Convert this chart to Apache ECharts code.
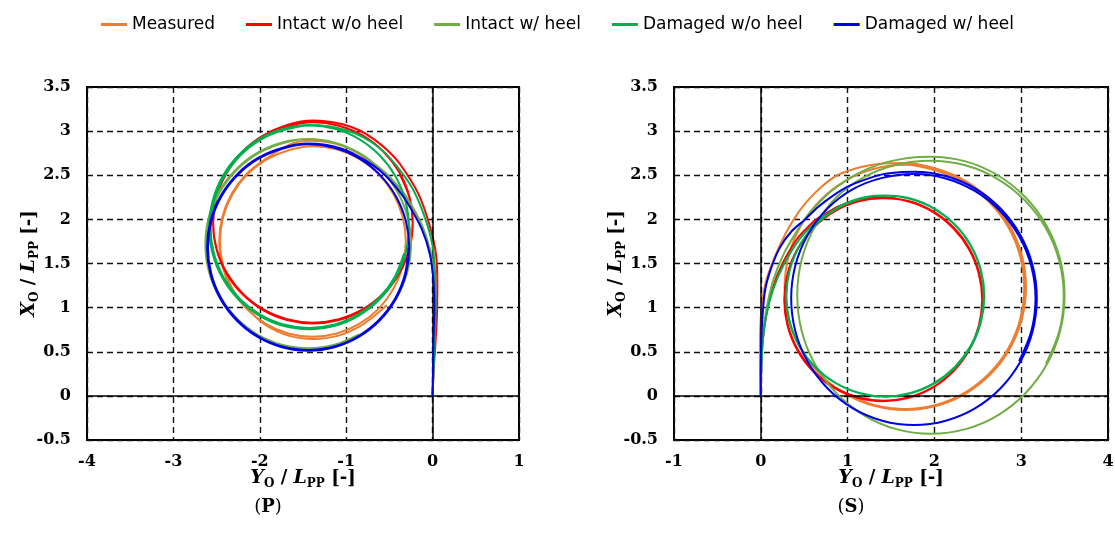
<!DOCTYPE html>
<html>
<head>
<meta charset="utf-8">
<script src="https://cdn.jsdelivr.net/npm/echarts/dist/echarts.min.js"></script>
<style>html,body{margin:0;padding:0;background:#fff}#c{width:1115px;height:546px}</style>
</head>
<body>
<div id="c"></div>
<script>
// ---------- data ----------
const SERIES_NAMES = ['Measured', 'Intact w/o heel', 'Intact w/ heel', 'Damaged w/o heel', 'Damaged w/ heel'];
const PANEL_LABELS = ['P', 'S'];
const X_RANGE_P = [-4, 1];
const X_RANGE_S = [-1, 4];
const Y_RANGE = [-0.5, 3.5];

// Port turn (P): [Y_O/Lpp, X_O/Lpp]
const P_MEASURED = [[0,0],[0.01,0.3],[0.02,0.65],[0.03,1.0],[0.02,1.35],[-0.03,1.65],[-0.14,1.95],[-0.32,2.25],[-0.44,2.4],[-0.57,2.53],[-0.72,2.65],[-0.88,2.76],[-1.06,2.84],[-1.24,2.88],[-1.42,2.89],[-1.65,2.85],
  [-1.93,2.685],[-2.154,2.514],[-2.325,2.29],[-2.433,2.03],[-2.47,1.75],[-2.433,1.47],[-2.325,1.21],[-2.154,0.986],[-1.93,0.815],[-1.67,0.707],[-1.39,0.67],[-1.11,0.707],
  [-0.85,0.815],[-0.626,0.986],[-0.455,1.21],[-0.347,1.47],[-0.31,1.75],[-0.347,2.03],[-0.455,2.29],[-0.626,2.514],[-0.85,2.685],[-1.11,2.793],[-1.39,2.83],
  [-1.667,2.784],[-1.925,2.677],[-2.147,2.507],[-2.317,2.285],[-2.424,2.027],[-2.46,1.75],[-2.424,1.473],[-2.317,1.215],[-2.147,0.993],[-1.93,0.8],[-1.66,0.68],
  [-1.38,0.645],[-1.1,0.68],[-0.84,0.79],[-0.62,0.95],[-0.53,1.03]];
const P_INTACT_NOHEEL = [[0,0],[0.01,0.25],[0.03,0.55],[0.05,0.9],[0.055,1.25],[0.04,1.6],[-0.04,1.95],[-0.17,2.3],[-0.38,2.63],[-0.52,2.78],[-0.68,2.91],[-0.85,3.01],[-1.05,3.08],[-1.22,3.11],[-1.385,3.12],
  [-1.684,3.07],[-1.963,2.948],[-2.202,2.767],[-2.385,2.533],[-2.501,2.259],[-2.54,1.965],[-2.501,1.671],[-2.385,1.397],[-2.202,1.163],[-1.963,0.982],[-1.684,0.869],[-1.385,0.83],
  [-1.086,0.869],[-0.807,0.982],[-0.568,1.163],[-0.385,1.397],[-0.269,1.671],[-0.23,1.965],[-0.269,2.259],[-0.385,2.533],[-0.568,2.767],[-0.807,2.948],[-1.086,3.061],[-1.385,3.10],
  [-1.684,3.051],[-1.963,2.938],[-2.202,2.757],[-2.385,2.523],[-2.501,2.249],[-2.54,1.955],[-2.501,1.661],[-2.385,1.387],[-2.202,1.153],[-1.963,0.972],[-1.684,0.859],[-1.385,0.82],
  [-1.086,0.859],[-0.807,0.972],[-0.568,1.153],[-0.385,1.387],[-0.269,1.661],[-0.23,1.955],[-0.269,2.249],[-0.385,2.523]];
const P_INTACT_HEEL = [[0,0],[0.01,0.3],[0.02,0.65],[0.03,1.0],[0.02,1.35],[-0.03,1.65],[-0.13,1.95],[-0.3,2.25],[-0.42,2.4],[-0.55,2.53],[-0.7,2.65],[-0.87,2.76],[-1.05,2.84],[-1.24,2.89],[-1.44,2.91],
  [-1.748,2.87],[-2.035,2.751],[-2.281,2.561],[-2.471,2.315],[-2.59,2.028],[-2.63,1.72],[-2.59,1.412],[-2.471,1.125],[-2.281,0.879],[-2.035,0.689],[-1.748,0.57],[-1.44,0.53],
  [-1.132,0.57],[-0.845,0.689],[-0.599,0.879],[-0.409,1.125],[-0.29,1.412],[-0.25,1.72],[-0.29,2.028],[-0.409,2.315],[-0.599,2.561],[-0.845,2.751],[-1.132,2.87],[-1.44,2.91],
  [-1.746,2.86],[-2.03,2.742],[-2.274,2.554],[-2.462,2.31],[-2.58,2.026],[-2.62,1.72],[-2.58,1.414],[-2.462,1.13],[-2.274,0.886],[-2.03,0.698],[-1.746,0.58],[-1.44,0.54],
  [-1.134,0.58],[-0.85,0.698]];
const P_DAMAGED_NOHEEL = [[0,0],[0.01,0.3],[0.025,0.65],[0.035,1.0],[0.03,1.35],[0.0,1.7],[-0.1,2.05],[-0.25,2.38],[-0.48,2.68],[-0.63,2.82],[-0.8,2.93],[-1.0,3.01],[-1.2,3.055],[-1.43,3.07],
  [-1.729,3.026],[-2.008,2.91],[-2.247,2.727],[-2.43,2.488],[-2.546,2.209],[-2.585,1.91],[-2.546,1.611],[-2.43,1.332],[-2.247,1.093],[-2.008,0.91],[-1.729,0.794],[-1.43,0.755],
  [-1.131,0.794],[-0.852,0.91],[-0.613,1.093],[-0.43,1.332],[-0.314,1.611],[-0.275,1.91],[-0.314,2.209],[-0.43,2.488],[-0.613,2.727],[-0.852,2.91],[-1.131,3.026],[-1.43,3.065],
  [-1.725,3.011],[-2.0,2.897],[-2.236,2.716],[-2.417,2.48],[-2.531,2.205],[-2.57,1.91],[-2.531,1.615],[-2.417,1.34],[-2.236,1.104],[-2.0,0.923],[-1.725,0.809],[-1.43,0.77],
  [-1.135,0.809],[-0.86,0.923],[-0.624,1.104],[-0.443,1.34],[-0.329,1.615]];
const P_DAMAGED_HEEL = [[0,0],[0.005,0.3],[0.01,0.65],[0.02,1.0],[0.01,1.3],[-0.03,1.6],[-0.13,1.9],[-0.3,2.2],[-0.42,2.36],[-0.55,2.5],[-0.7,2.62],[-0.87,2.72],[-1.05,2.8],[-1.24,2.845],[-1.44,2.86],
  [-1.743,2.81],[-2.025,2.693],[-2.267,2.507],[-2.453,2.265],[-2.57,1.983],[-2.61,1.68],[-2.57,1.377],[-2.453,1.095],[-2.267,0.853],[-2.025,0.667],[-1.743,0.55],[-1.44,0.51],
  [-1.137,0.55],[-0.855,0.667],[-0.613,0.853],[-0.427,1.095],[-0.31,1.377],[-0.27,1.68],[-0.31,1.983],[-0.427,2.265],[-0.613,2.507],[-0.855,2.693],[-1.137,2.81],[-1.44,2.85],
  [-1.74,2.801],[-2.02,2.685],[-2.26,2.5],[-2.445,2.26],[-2.561,1.98],[-2.6,1.68],[-2.561,1.38],[-2.445,1.1],[-2.26,0.86],[-2.02,0.675],[-1.74,0.559],[-1.44,0.52],
  [-1.14,0.559],[-0.86,0.675],[-0.62,0.86],[-0.435,1.1],[-0.319,1.38],[-0.28,1.68]];

// Starboard turn (S)
const S_MEASURED = [[0,0],[-0.01,0.3],[-0.01,0.6],[0.0,0.9],[0.02,1.1],[0.06,1.3],[0.13,1.5],[0.24,1.75],[0.38,2.0],[0.53,2.2],[0.7,2.37],[0.88,2.5],[1.07,2.57],[1.27,2.615],[1.47,2.635],[1.665,2.64],
  [2.025,2.573],[2.36,2.434],[2.648,2.213],[2.869,1.925],[3.008,1.59],[3.055,1.23],[3.008,0.87],[2.869,0.535],[2.648,0.247],[2.36,0.026],[2.025,-0.113],[1.665,-0.16],
  [1.305,-0.113],[0.97,0.026],[0.682,0.247],[0.461,0.535],[0.322,0.87],[0.275,1.23],[0.322,1.59],[0.461,1.925],[0.682,2.213],[0.97,2.434],[1.305,2.573],[1.665,2.62],
  [2.016,2.553],[2.348,2.416],[2.632,2.197],[2.851,1.913],[2.988,1.581],[3.035,1.225],[2.988,0.869],[2.851,0.537],[2.632,0.253],[2.348,0.034],[2.016,-0.103],[1.66,-0.15],
  [1.304,-0.103],[0.972,0.034]];
const S_INTACT_NOHEEL = [[0,0],[0.005,0.3],[0.02,0.6],[0.06,0.9],[0.13,1.2],[0.25,1.5],[0.42,1.78],[0.53,1.9],[0.64,2.0],[0.77,2.08],[0.9,2.15],[1.05,2.2],[1.22,2.235],[1.41,2.25],
  [1.705,2.201],[1.98,2.086],[2.216,1.903],[2.397,1.665],[2.511,1.388],[2.55,1.09],[2.511,0.792],[2.397,0.515],[2.216,0.277],[1.98,0.094],[1.705,-0.021],[1.41,-0.06],
  [1.115,-0.021],[0.84,0.094],[0.604,0.277],[0.423,0.515],[0.309,0.792],[0.27,1.09],[0.309,1.388],[0.423,1.665],[0.604,1.903],[0.84,2.086],[1.115,2.201],[1.41,2.24],
  [1.71,2.206],[1.985,2.091],[2.221,1.908],[2.402,1.67],[2.516,1.393],[2.555,1.095],[2.516,0.797],[2.402,0.52],[2.221,0.282],[1.985,0.099],[1.71,-0.016],[1.415,-0.055],
  [1.12,-0.016],[0.845,0.099],[0.609,0.282],[0.428,0.52],[0.314,0.797],[0.275,1.095]];
const S_INTACT_HEEL = [[0,0],[0.005,0.3],[0.02,0.6],[0.06,0.95],[0.14,1.3],[0.27,1.62],[0.45,1.92],[0.56,2.07],[0.68,2.2],[0.81,2.32],[0.95,2.42],[1.1,2.51],[1.25,2.58],[1.42,2.64],[1.6,2.68],[1.78,2.705],[1.96,2.71],
  [2.359,2.657],[2.73,2.50],[3.049,2.25],[3.294,1.925],[3.448,1.547],[3.50,1.14],[3.448,0.733],[3.294,0.355],[3.049,0.03],[2.73,-0.22],[2.359,-0.377],[1.96,-0.43],
  [1.561,-0.377],[1.19,-0.22],[0.871,0.03],[0.626,0.355],[0.472,0.733],[0.42,1.14],[0.472,1.547],[0.626,1.925],[0.871,2.25],[1.19,2.48],[1.561,2.62],[1.96,2.665],
  [2.356,2.613],[2.725,2.459],[3.042,2.215],[3.285,1.898],[3.438,1.528],[3.49,1.13],[3.438,0.732],[3.285,0.362]];
const S_DAMAGED_NOHEEL = [[0,0],[0.005,0.3],[0.02,0.6],[0.06,0.9],[0.14,1.2],[0.27,1.5],[0.45,1.78],[0.56,1.9],[0.68,2.0],[0.8,2.08],[0.93,2.16],[1.08,2.22],[1.25,2.26],[1.435,2.27],
  [1.73,2.231],[2.005,2.117],[2.241,1.936],[2.422,1.7],[2.536,1.425],[2.575,1.13],[2.536,0.835],[2.422,0.56],[2.241,0.324],[2.005,0.143],[1.73,0.029],[1.435,-0.01],
  [1.14,0.029],[0.865,0.143],[0.629,0.324],[0.448,0.56],[0.334,0.835],[0.295,1.13],[0.334,1.425],[0.448,1.7],[0.629,1.936],[0.865,2.117],[1.14,2.231],[1.435,2.27],
  [1.725,2.236],[2.0,2.122],[2.236,1.941],[2.417,1.705],[2.531,1.43],[2.57,1.135],[2.531,0.84],[2.417,0.565],[2.236,0.329],[2.0,0.148],[1.725,0.034],[1.43,-0.005],
  [1.135,0.034],[0.86,0.148],[0.624,0.329],[0.443,0.565],[0.329,0.84],[0.29,1.135]];
const S_DAMAGED_HEEL = [[0,0],[0.0,0.3],[0.005,0.6],[0.02,0.9],[0.05,1.2],[0.12,1.45],[0.22,1.68],[0.35,1.86],[0.51,2.0],[0.66,2.14],[0.82,2.26],[1.0,2.37],[1.2,2.45],[1.4,2.51],[1.6,2.535],[1.765,2.54],
  [2.131,2.491],[2.473,2.348],[2.765,2.12],[2.99,1.823],[3.132,1.477],[3.18,1.105],[3.132,0.733],[2.99,0.387],[2.765,0.09],[2.473,-0.138],[2.131,-0.281],[1.765,-0.33],
  [1.399,-0.281],[1.057,-0.138],[0.765,0.09],[0.54,0.387],[0.398,0.733],[0.35,1.105],[0.398,1.477],[0.54,1.823],[0.765,2.12],[1.057,2.34],[1.399,2.47],[1.765,2.515],
  [2.12,2.467],[2.46,2.325],[2.752,2.1],[2.976,1.808],[3.117,1.466],[3.165,1.1],[3.117,0.734],[2.976,0.392]];

const PORT = [P_MEASURED, P_INTACT_NOHEEL, P_INTACT_HEEL, P_DAMAGED_NOHEEL, P_DAMAGED_HEEL];
const STBD = [S_MEASURED, S_INTACT_NOHEEL, S_INTACT_HEEL, S_DAMAGED_NOHEEL, S_DAMAGED_HEEL];

// ---------- style ----------
const COLORS = ['#ED7D31', '#FF0000', '#70AD47', '#00B050', '#0000E6'];
const SERIF = 'DejaVu Serif';
const tickLabel = { color: '#000', fontFamily: SERIF, fontWeight: 'bold', fontSize: 16 };
const nameRich = {
  i: { fontFamily: SERIF, fontStyle: 'italic', fontWeight: 'bold', fontSize: 19, lineHeight: 24, color: '#000' },
  s: { fontFamily: SERIF, fontWeight: 'bold', fontSize: 12, lineHeight: 14, verticalAlign: 'bottom', color: '#000' },
  n: { fontFamily: SERIF, fontWeight: 'bold', fontSize: 18, lineHeight: 24, color: '#000' }
};
const splitStyle = { show: true, lineStyle: { color: '#111', width: 1.4, type: [6, 4] } };

function xAxisFor(gi, range) {
  return {
    gridIndex: gi, type: 'value', min: range[0], max: range[1], interval: 1,
    axisLine: { show: false }, axisTick: { show: false },
    splitLine: splitStyle,
    axisLabel: Object.assign({ margin: 14 }, tickLabel),
    name: '{i|Y}{s|O}{n| / }{i|L}{s|PP}{n| [-]}',
    nameLocation: 'middle', nameGap: 26, nameMoveOverlap: false,
    nameTextStyle: { rich: nameRich }
  };
}
function yAxisFor(gi) {
  return {
    gridIndex: gi, type: 'value', min: Y_RANGE[0], max: Y_RANGE[1], interval: 0.5,
    axisLine: { show: false }, axisTick: { show: false },
    splitLine: splitStyle,
    axisLabel: Object.assign({ margin: 16 }, tickLabel),
    name: '{i|X}{s|O}{n| / }{i|L}{s|PP}{n| [-]}',
    nameLocation: 'middle', nameGap: 46, nameRotate: 90, nameMoveOverlap: false,
    nameTextStyle: { rich: nameRich }
  };
}

const zeroLines = {
  silent: true, symbol: 'none', animation: false,
  label: { show: false },
  lineStyle: { color: '#000', type: 'solid', width: 1.5 },
  emphasis: { disabled: true },
  data: [{ xAxis: 0 }, { yAxis: 0 }]
};

const series = [];
[PORT, STBD].forEach((panel, gi) => {
  panel.forEach((pts, k) => {
    const s = {
      name: SERIES_NAMES[k], type: 'line', xAxisIndex: gi, yAxisIndex: gi,
      data: pts, smooth: 0.33, symbol: 'none', showSymbol: false,
      lineStyle: { color: COLORS[k], width: 2 }, itemStyle: { color: COLORS[k] },
      z: 3 + k, animation: false
    };
    if (k === 0) s.markLine = zeroLines;
    series.push(s);
  });
});

const chart = echarts.init(document.getElementById('c'), null, { renderer: 'canvas' });
chart.setOption({
  backgroundColor: '#fff',
  animation: false,
  legend: {
    data: SERIES_NAMES, top: 11, left: 'center',
    icon: 'rect', itemWidth: 26, itemHeight: 3, itemGap: 31,
    textStyle: { color: '#000', fontFamily: 'DejaVu Sans', fontSize: 17 }
  },
  grid: [
    { left: 87, top: 87, width: 432, height: 353, show: true, borderColor: '#000', borderWidth: 2, containLabel: false, outerBoundsMode: 'none' },
    { left: 674, top: 87, width: 434, height: 353, show: true, borderColor: '#000', borderWidth: 2, containLabel: false, outerBoundsMode: 'none' }
  ],
  xAxis: [xAxisFor(0, X_RANGE_P), xAxisFor(1, X_RANGE_S)],
  yAxis: [yAxisFor(0), yAxisFor(1)],
  graphic: PANEL_LABELS.map((lab, i) => ({
    type: 'text', x: i === 0 ? 268 : 851, y: 507,
    style: {
      text: '{r|(}{b|' + lab + '}{r|)}',
      align: 'center', verticalAlign: 'middle',
      rich: {
        r: { fontFamily: SERIF, fontSize: 18, fill: '#000' },
        b: { fontFamily: SERIF, fontSize: 18, fontWeight: 'bold', fill: '#000' }
      }
    }
  })),
  series: series
});
</script>
</body>
</html>
